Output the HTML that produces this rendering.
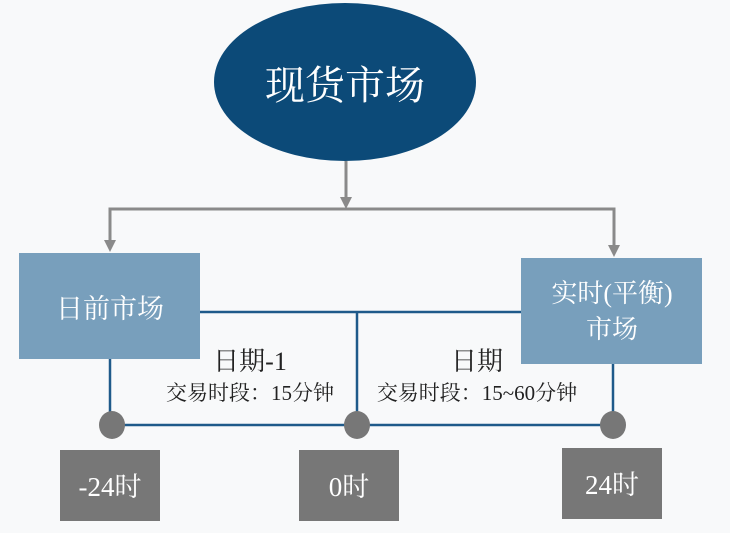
<!DOCTYPE html>
<html><head><meta charset="utf-8"><style>
html,body{margin:0;padding:0;background:#f8f9fa;}
svg{display:block;}
text{font-family:"Liberation Serif","Noto Serif CJK SC",serif;}
</style></head><body>
<svg width="730" height="533" viewBox="0 0 730 533" xmlns="http://www.w3.org/2000/svg">
<rect width="730" height="533" fill="#f8f9fa"/>
<ellipse cx="345" cy="82" rx="131" ry="79" fill="#0c4a78"/>
<text x="345" y="99" font-size="40" fill="#fff" text-anchor="middle" font-family="Noto Sans CJK SC,sans-serif">现货市场</text>
<g stroke="#8a8a8a" stroke-width="3" fill="none">
<line x1="346" y1="161" x2="346" y2="198"/>
<polyline points="110,242 110,209 614,209 614,247" />
</g>
<path d="M340,197 L352,197 L346,209 Z M104,240 L116,240 L110,252 Z M608,245 L620,245 L614,257 Z" fill="#8a8a8a"/>
<g stroke="#1f5a8a" stroke-width="2.5" fill="none">
<line x1="200" y1="312" x2="521" y2="312"/>
<line x1="357" y1="312" x2="357" y2="425"/>
<line x1="110" y1="358" x2="110" y2="425"/>
<line x1="613" y1="364" x2="613" y2="425"/>
<line x1="110" y1="425" x2="613" y2="425"/>
</g>
<rect x="19" y="253" width="181" height="106" fill="#789fbc"/>
<rect x="521" y="258" width="181" height="106" fill="#789fbc"/>
<text x="110" y="318" font-size="27" fill="#fff" text-anchor="middle">日前市场</text>
<text x="612" y="302" font-size="26" fill="#fff" text-anchor="middle">实时(平衡)</text>
<text x="612" y="338" font-size="26" fill="#fff" text-anchor="middle">市场</text>
<ellipse cx="112" cy="425" rx="13" ry="14" fill="#777"/>
<ellipse cx="357" cy="425" rx="13" ry="14" fill="#777"/>
<ellipse cx="613" cy="425" rx="13" ry="14" fill="#777"/>
<text x="250" y="370" font-size="26" fill="#222" text-anchor="middle">日期-1</text>
<text x="250" y="400" font-size="21" fill="#222" text-anchor="middle">交易时段：15分钟</text>
<text x="477" y="370" font-size="26" fill="#222" text-anchor="middle">日期</text>
<text x="477" y="400" font-size="21" fill="#222" text-anchor="middle">交易时段：15~60分钟</text>
<rect x="60" y="450" width="100" height="71" fill="#777"/>
<rect x="299" y="450" width="100" height="71" fill="#777"/>
<rect x="562" y="448" width="100" height="71" fill="#777"/>
<text x="110" y="496" font-size="27" fill="#fff" text-anchor="middle">-24时</text>
<text x="349" y="496" font-size="27" fill="#fff" text-anchor="middle">0时</text>
<text x="612" y="494" font-size="27" fill="#fff" text-anchor="middle">24时</text>
</svg>
</body></html>
